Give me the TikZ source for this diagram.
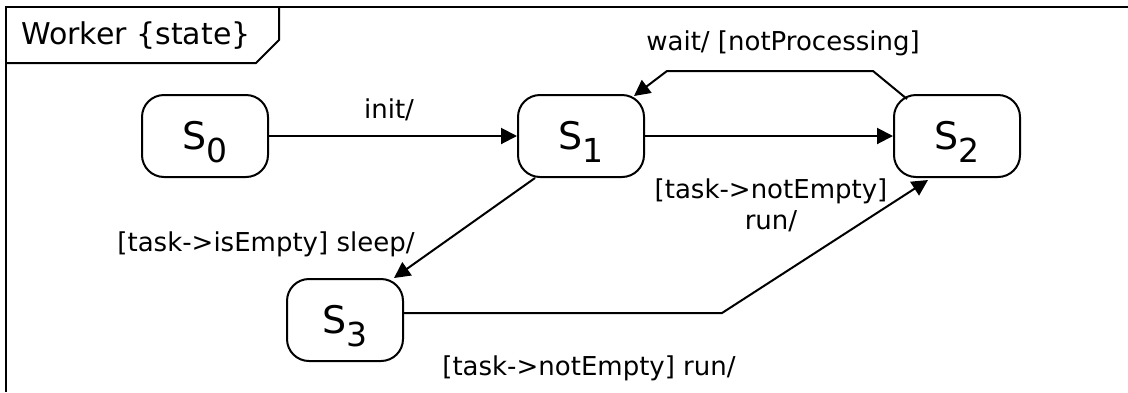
\documentclass[tikz,border=0pt]{standalone}
\usepackage{fontspec}
\setmainfont{DejaVu Sans}
\usetikzlibrary{arrows.meta,calc}

\newcommand{\stname}[1]{{\fontsize{19}{22}\selectfont S\raisebox{-6.5pt}[0pt][0pt]{\fontsize{16.5}{19}\selectfont #1}}}

\begin{document}
\begin{tikzpicture}[x=0.5pt,y=-0.5pt,
    frame/.style={line width=1.2pt, line join=miter},
    state/.style={draw, line width=1pt, rounded corners=11pt,
                  minimum width=63pt, minimum height=41pt, inner sep=0pt},
    trans/.style={line width=1pt, -{Triangle[length=8pt,width=8pt]}},
    lbl/.style={inner sep=0pt, font=\fontsize{13}{15.6}\selectfont, align=center}]

  \useasboundingbox (0,0) rectangle (1128,392);

  % frame with its name tab
  \draw[frame] (1128,7) -- (6,7) -- (6,392);
  \draw[line width=1pt] (6,63) -- (256,63) -- (279,40) -- (279,7);
  \node[inner sep=0pt, font=\fontsize{15}{18}\selectfont] (title) at (136,36) {Worker \{state\}};

  % states
  \node[state] (S0) at (205,136) {\stname{0}};
  \node[state] (S1) at (581,136) {\stname{1}};
  \node[state] (S2) at (957,136) {\stname{2}};
  \node[state, minimum width=58pt] (S3) at (345,320) {\stname{3}};

  % bend points of the routed transitions
  \coordinate (w1) at (873,71);
  \coordinate (w2) at (667,71);
  \coordinate (r1) at (722,313);

  % transitions
  \draw[trans] (S0) -- (S1);
  \draw[trans] (S1) -- (S2);
  \draw[trans] ($(S2.north west)+(14,5)$) -- (w1) -- (w2) -- ($(S1.north east)+(-11,2)$);
  \draw[trans] ($(S1.south)+(-46,0)$) -- ($(S3.north east)+(-10,0)$);
  \draw[trans] ($(S3.east)+(0,-7)$) -- (r1) -- ($(S2.south)+(-29,2)$);

  % transition labels
  \node[lbl] (linit) at (389,110) {init/};
  \node[lbl] (lwait) at (783,43) {wait/ [notProcessing]};
  \node[lbl] (lrun1) at (771,205) {[task->notEmpty]\\run/};
  \node[lbl] (lsleep) at (266,244) {[task->isEmpty] sleep/};
  \node[lbl] (lrun2) at (589,368) {[task->notEmpty] run/};
\end{tikzpicture}
\end{document}
